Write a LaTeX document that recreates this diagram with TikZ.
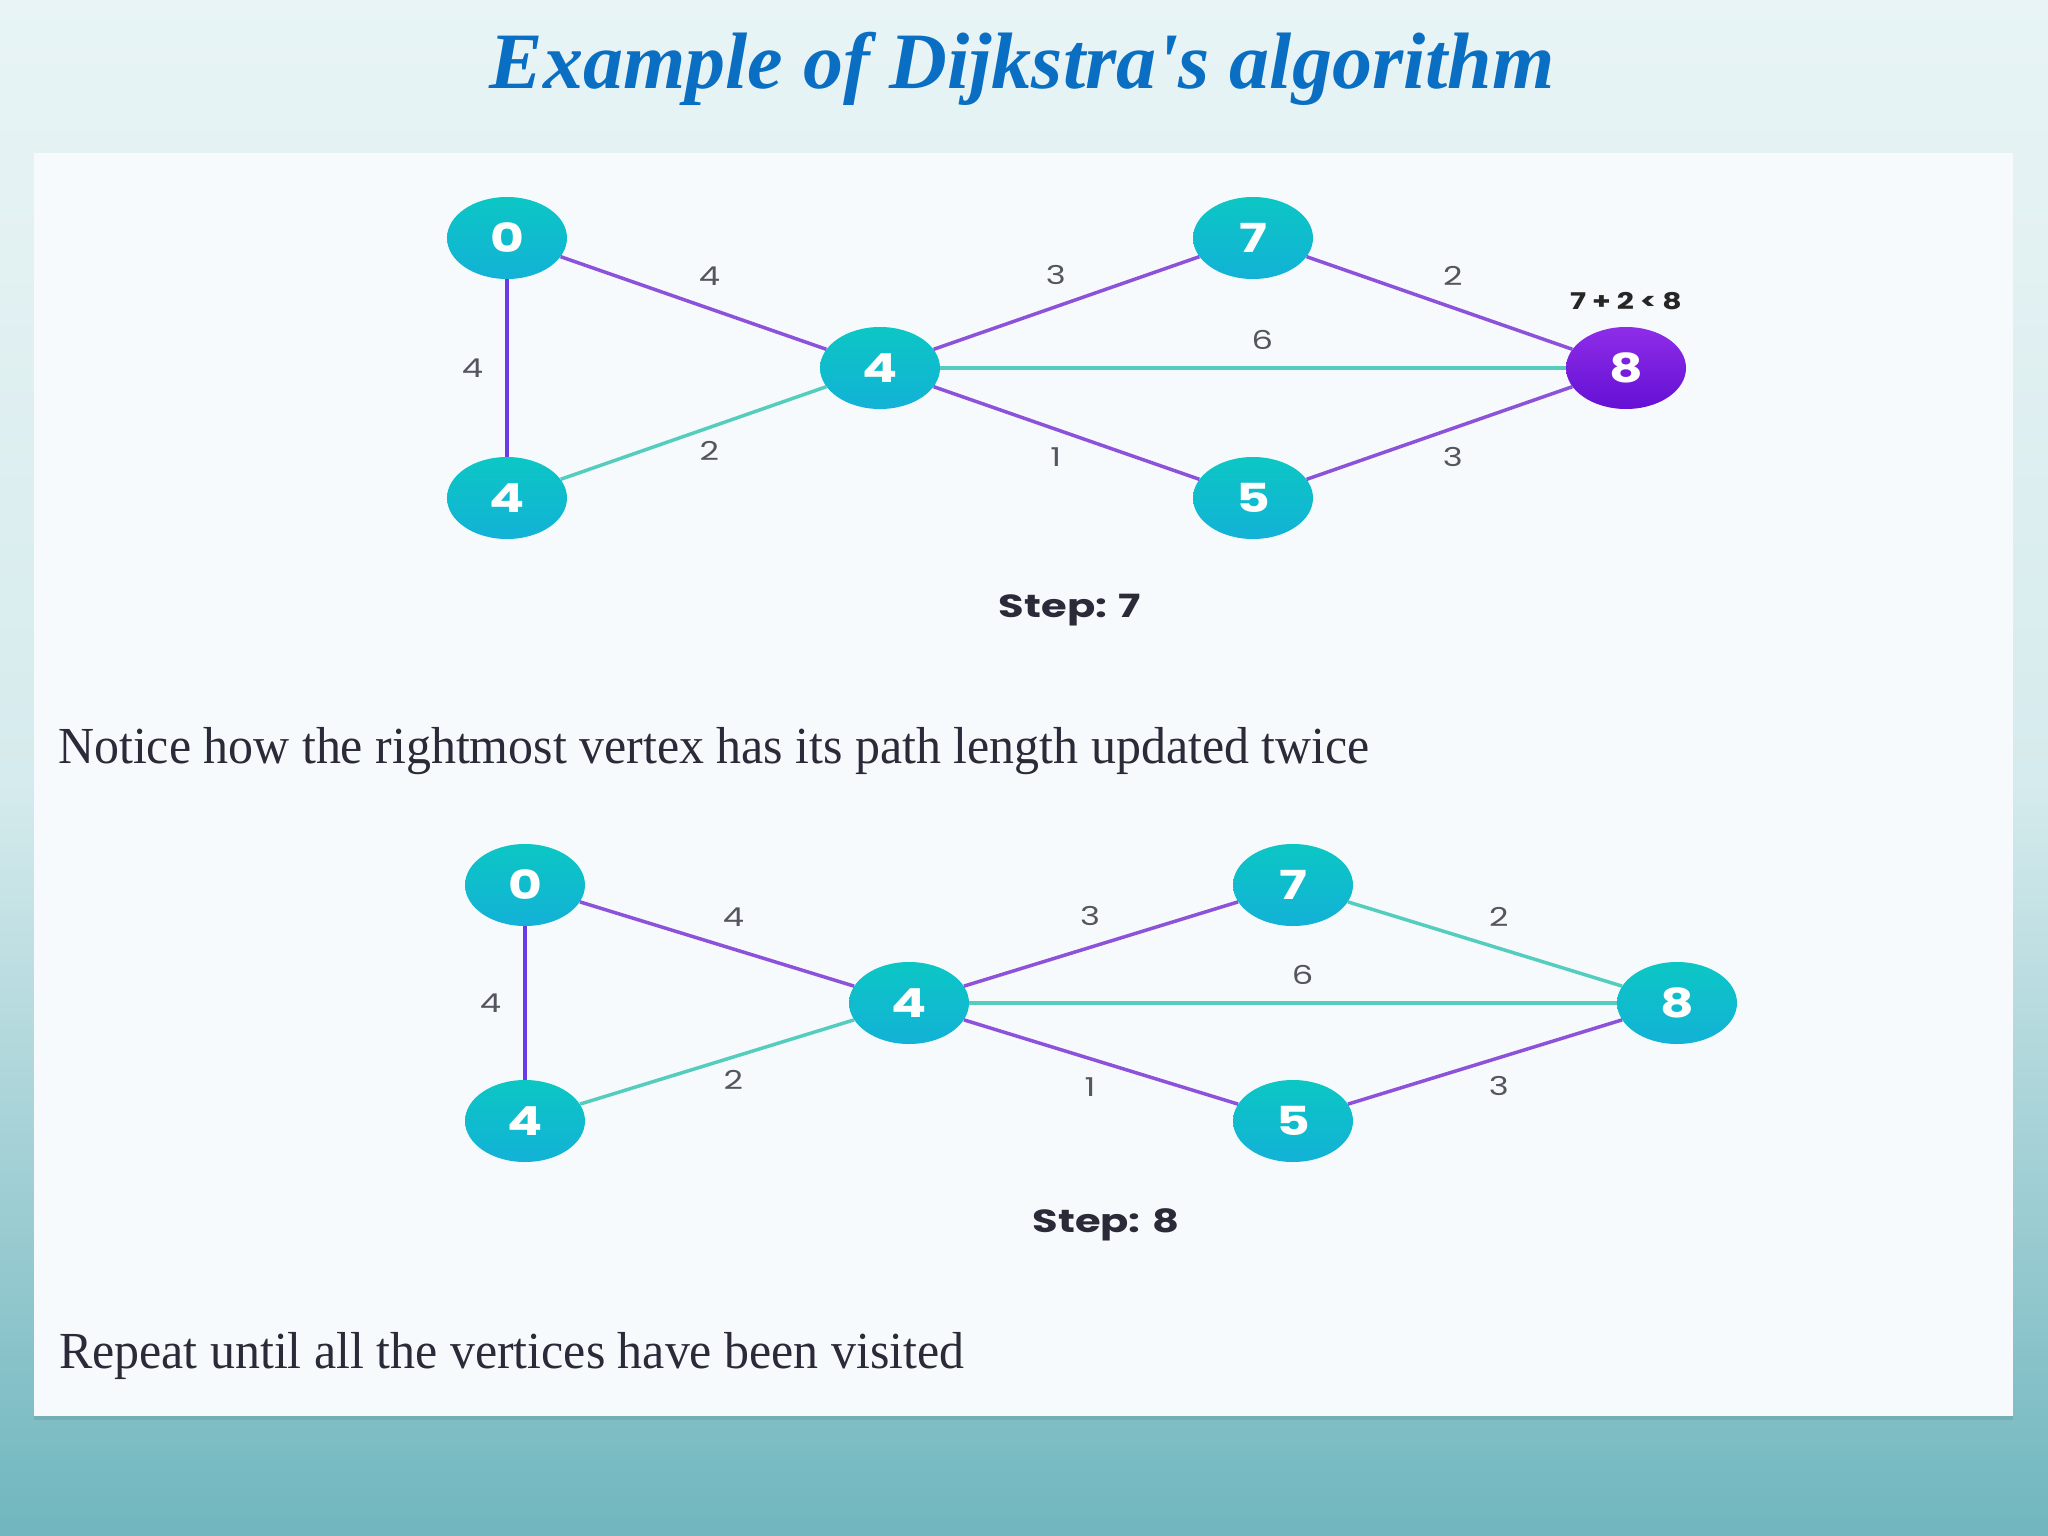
\documentclass[tikz,border=0pt]{standalone}
\usepackage{fontspec}
\setmainfont{Liberation Serif}
\newfontfamily\graphfont{Poppins}[FakeStretch=1.3]
\newfontfamily\bodyfont{Liberation Serif}[FakeStretch=0.96]
\usetikzlibrary{positioning, shapes.geometric}

\definecolor{vtxtop}{HTML}{0CC6C4}
\definecolor{vtxbot}{HTML}{12B2D6}
\definecolor{purtop}{HTML}{8E2DE8}
\definecolor{purbot}{HTML}{6410D4}
\definecolor{edgepurple}{HTML}{8C52DA}
\definecolor{edgeteal}{HTML}{55CDBE}
\definecolor{edgeblue}{HTML}{6B3CE6}
\definecolor{titleblue}{HTML}{0A6FC2}
\definecolor{panelbg}{HTML}{F7FAFC}
\definecolor{bgtop}{HTML}{E8F4F5}
\definecolor{bgmid}{HTML}{D6EBED}
\definecolor{bgbot}{HTML}{70B6BE}
\definecolor{textgray}{HTML}{2A2A38}
\definecolor{labelgray}{HTML}{55555F}

\begin{document}
\begin{tikzpicture}[
    x=1pt, y=-1pt,
    vertex/.style={
        ellipse,
        minimum width=120pt, minimum height=82pt,
        inner sep=0pt,
        top color=vtxtop, bottom color=vtxbot,
        text=white,
        font=\graphfont\bfseries\fontsize{40}{40}\selectfont
    },
    current/.style={
        top color=purtop, bottom color=purbot
    },
    wlabel/.style={
        text=labelgray, inner sep=0pt,
        font=\graphfont\fontsize{26}{26}\selectfont
    },
    pedge/.style={draw=edgepurple, line width=3.5pt},
    tedge/.style={draw=edgeteal, line width=3.5pt},
    vedge/.style={draw=edgeblue, line width=3.5pt},
    steptext/.style={
        text=textgray,
        font=\graphfont\bfseries\fontsize{32}{32}\selectfont
    },
    linetext/.style={
        anchor=base west, inner sep=0pt, text=textgray,
        font=\bodyfont\fontsize{52}{52}\selectfont
    }
]

% Page and panel
\useasboundingbox (0,0) rectangle (2048,1536);
\shade[top color=bgtop, bottom color=bgmid] (0,0) rectangle (2048,781);
\shade[top color=bgmid, bottom color=bgbot] (0,780) rectangle (2048,1536);
\fill[black, opacity=.08] (34,1416) rectangle (2013,1420);
\fill[panelbg] (34,153) rectangle (2013,1416);

% Macro: one state of the graph around its middle vertex
% #1 prefix, #2/#3 middle vertex, #4/#5 spacing, #6 style of vertex 8, #7 style of edge 7--8
\newcommand{\drawgraph}[7]{%
  \node[vertex] (#1mid) at (#2,#3) {4};
  \node[vertex] (#1zero) at (#2-#4,#3-#5) {0};
  \node[vertex] (#1four) at (#2-#4,#3+#5) {4};
  \node[vertex] (#1seven) at (#2+#4,#3-#5) {7};
  \node[vertex] (#1five) at (#2+#4,#3+#5) {5};
  \node[vertex, #6] (#1eight) at (#2+2*#4,#3) {8};

  \draw[vedge] (#1zero) -- node[wlabel, left=22pt] {4} (#1four);
  \draw[pedge] (#1zero) -- node[wlabel, pos=.56, above=21pt] {4} (#1mid);
  \draw[tedge] (#1four) -- node[wlabel, pos=.56, below=12pt] {2} (#1mid);
  \draw[pedge] (#1mid) -- node[wlabel, pos=.46, above=20pt] {3} (#1seven);
  \draw[pedge] (#1mid) -- node[wlabel, pos=.46, below=17pt] {1} (#1five);
  \draw[tedge] (#1mid) -- node[wlabel, pos=.515, above=17pt] {6} (#1eight);
  \draw[#7] (#1seven) -- node[wlabel, pos=.55, above=20pt] {2} (#1eight);
  \draw[pedge] (#1five) -- node[wlabel, pos=.55, below=17pt] {3} (#1eight);
}

% Title
\node[anchor=base, inner sep=0pt, text=titleblue,
      font=\bfseries\itshape\fontsize{80}{80}\selectfont] (title) at (1022,89)
    {Example of Dijkstra\textquotesingle s algorithm};

% Step 7
\drawgraph{s7}{880}{368}{373}{130}{current}{pedge}
\node[above=17pt of s7eight, inner sep=0pt, text=black!85,
      font=\graphfont\bfseries\fontsize{23}{23}\selectfont] (cmp)
    {7\hspace{6pt}+\hspace{6pt}2\hspace{6pt}<\hspace{6pt}8};
\node[steptext] (step7) at (1070,610) {Step: 7};
\node[linetext] (notice) at (58,763)
    {Notice how the rightmost vertex has its path length updated twice};

% Step 8
\drawgraph{s8}{909}{1003}{384}{118}{}{tedge}
\node[steptext] (step8) at (1106,1225) {Step: 8};
\node[linetext] (repeat) at (59,1368)
    {Repeat until all the vertices have been visited};

\end{tikzpicture}
\end{document}
